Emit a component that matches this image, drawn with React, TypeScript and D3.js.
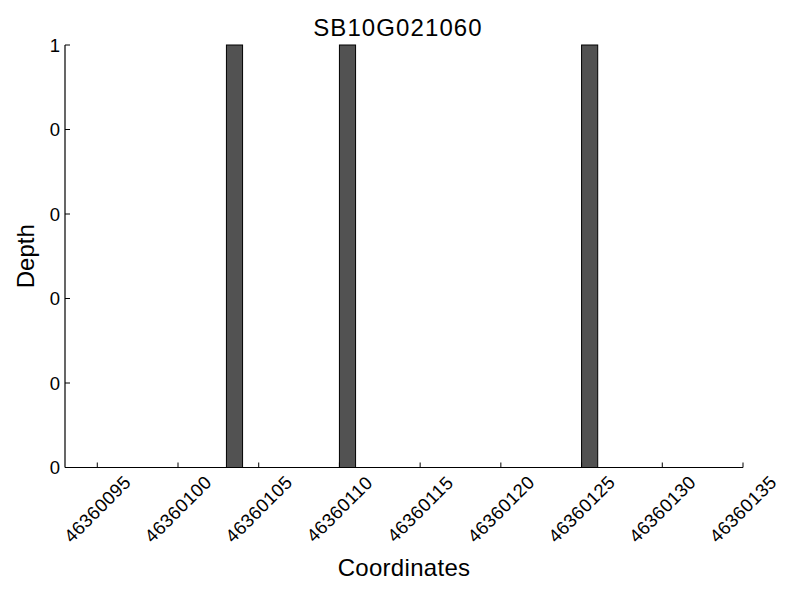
import React from "react";
import * as d3 from "d3";

const title = "SB10G021060";
const xLabel = "Coordinates";
const yLabel = "Depth";

// bar positions (start coordinate) and depth values
const positions = [46360103, 46360110, 46360125];
const depths = [1, 1, 1];

const xDomain = [46360093, 46360135];
const xTicks = [46360095, 46360100, 46360105, 46360110, 46360115, 46360120, 46360125, 46360130, 46360135];
const yTicks = [0, 0.2, 0.4, 0.6, 0.8, 1];
const yTickLabels = ["0", "0", "0", "0", "0", "1"];

const W = 800;
const H = 600;
const left = 65;
const right = 743;
const top = 45;
const bottom = 467.5;
const font = "'Liberation Sans', Arial, Helvetica, sans-serif";

export default function App() {
  const x = d3.scaleLinear().domain(xDomain).range([left, right]);
  const y = d3.scaleLinear().domain([0, 1]).range([bottom, top]);

  return (
    <svg
      width={W}
      height={H}
      style={{ position: "absolute", left: 0, top: 0, background: "#fff" }}
      fontFamily={font}
    >
      <rect x={0} y={0} width={W} height={H} fill="#fff" />
      {positions.map((p, i) => (
        <rect
          key={i}
          x={x(p)}
          y={y(depths[i])}
          width={x(p + 1) - x(p)}
          height={y(0) - y(depths[i])}
          fill="#525252"
          stroke="#000"
          strokeWidth={1}
        />
      ))}
      {/* axes */}
      <line x1={left} x2={left} y1={top} y2={bottom} stroke="#000" strokeWidth={1.2} />
      <line x1={left} x2={right} y1={bottom} y2={bottom} stroke="#000" strokeWidth={1.2} />
      {yTicks.map((t, i) => (
        <g key={i}>
          <line x1={left} x2={left + 5} y1={y(t)} y2={y(t)} stroke="#000" strokeWidth={1} />
          <text
            x={60}
            y={y(t)}
            textAnchor="end"
            dominantBaseline="central"
            fontSize={18.5}
            fill="#000"
          >
            {yTickLabels[i]}
          </text>
        </g>
      ))}
      {xTicks.map((t, i) => (
        <g key={i}>
          <line x1={x(t)} x2={x(t)} y1={bottom} y2={bottom - 5} stroke="#000" strokeWidth={1} />
          <text
            transform={`translate(${x(t)},509) rotate(-45)`}
            textAnchor="middle"
            dominantBaseline="central"
            fontSize={18.5}
            letterSpacing={0.4}
            fill="#000"
          >
            {t}
          </text>
        </g>
      ))}
      <text x={398} y={35.5} textAnchor="middle" fontSize={24} letterSpacing={1.1} fill="#000">
        {title}
      </text>
      <text x={404} y={576} textAnchor="middle" fontSize={24} letterSpacing={0.3} fill="#000">
        {xLabel}
      </text>
      <text
        transform={`translate(33.5,${(top + bottom) / 2}) rotate(-90)`}
        textAnchor="middle"
        fontSize={24}
        fill="#000"
      >
        {yLabel}
      </text>
    </svg>
  );
}
